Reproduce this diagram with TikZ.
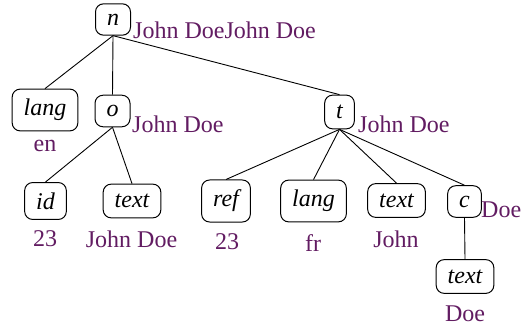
\documentclass[tikz,border=0pt]{standalone}
\usepackage{fontspec}
\setmainfont{Liberation Serif}
\definecolor{lblc}{RGB}{98,28,98}
\newcommand\bigfnt{\fontsize{24}{28}\selectfont}
\tikzset{
  tn/.style={draw, rounded corners=8pt, line width=1pt, inner xsep=11.5pt, inner ysep=10pt, font=\bigfnt\itshape},
  lbl/.style={text=lblc, inner sep=0pt, font=\bigfnt},
  side/.style={lbl, anchor=base west},
  under/.style={lbl, anchor=base},
  edge/.style={line width=0.9pt}
}
\begin{document}
\begin{tikzpicture}[x=1pt,y=-1pt]
\useasboundingbox (0,0) rectangle (521,331);
% tree nodes
\node[tn] (n) at (113,19.5) {n};
\node[tn] (lang1) at (45,110) {lang};
\node[tn] (o) at (112.5,111) {o};
\node[tn] (t) at (339.5,112) {t};
\node[tn] (id) at (45.5,201) {id};
\node[tn] (txt1) at (132,201) {text};
\node[tn] (ref) at (226,201) {ref};
\node[tn] (lang2) at (313.5,201) {lang};
\node[tn] (txt2) at (396.5,200.5) {text};
\node[tn] (c) at (464.5,201.5) {c};
\node[tn] (txt3) at (465,276.5) {text};
% edges
\draw[edge] (n.south) -- (lang1.north);
\draw[edge] (n.south) -- (o.north);
\draw[edge] (n.south) -- (t.north);
\draw[edge] (o.south) -- (id.north);
\draw[edge] (o.south) -- (txt1.north);
\draw[edge] (t.south) -- (ref.north);
\draw[edge] (t.south) -- (lang2.north);
\draw[edge] (t.south) -- (txt2.north);
\draw[edge] (t.south) -- (c.north);
\draw[edge] (c.south) -- (txt3.north);
% labels
\node[side] (ln) at (133,39) {John DoeJohn Doe};
\node[side] (lo) at (132,132) {John Doe};
\node[side] (lt) at (358,132) {John Doe};
\node[side] (lc) at (481,217) {Doe};
\node[under] (len) at (45,151) {en};
\node[under] (lid) at (45,246) {23};
\node[under] (ltxt1) at (131.5,247) {John Doe};
\node[under] (lref) at (227,249) {23};
\node[under] (llang2) at (313,251) {fr};
\node[under] (ltxt2) at (396,247) {John};
\node[under] (ltxt3) at (465,321) {Doe};
\end{tikzpicture}
\end{document}
